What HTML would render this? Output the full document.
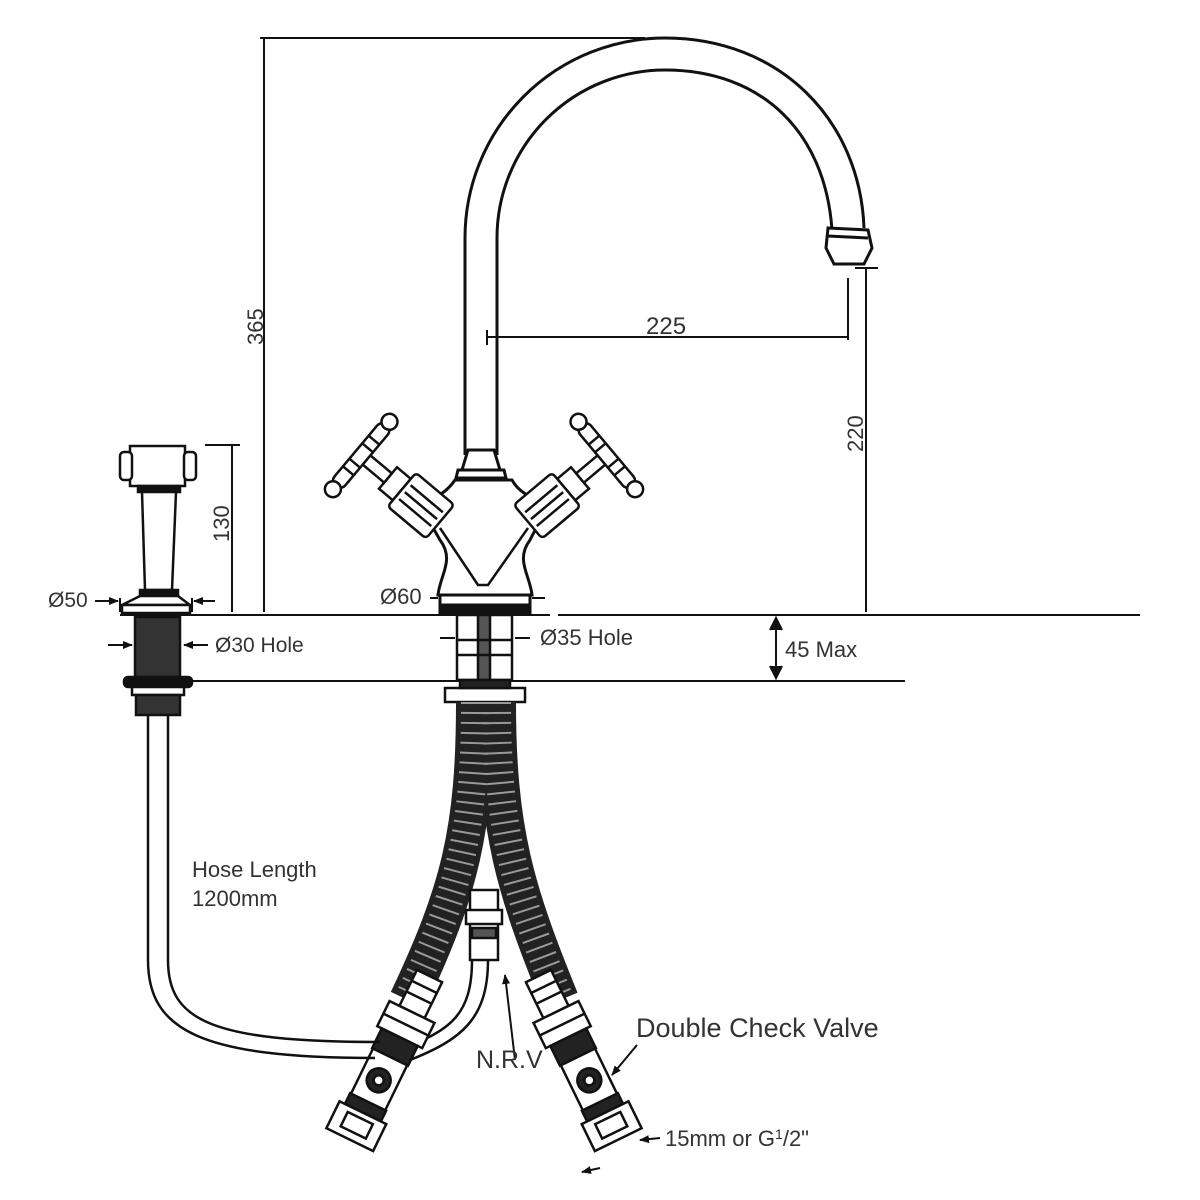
<!DOCTYPE html>
<html><head><meta charset="utf-8"><style>
html,body{margin:0;padding:0;background:#fff}
svg{display:block}
text{font-family:"Liberation Sans",sans-serif;fill:#333}
</style></head><body>
<svg width="1200" height="1200" viewBox="0 0 1200 1200" xmlns="http://www.w3.org/2000/svg">
<defs>
<marker id="ar" markerWidth="10" markerHeight="8" refX="9" refY="4" orient="auto" markerUnits="userSpaceOnUse"><path d="M0,0 L10,4 L0,8 Z" fill="#111"/></marker>
<g id="fit" stroke="#111" stroke-width="2.5" fill="#fff">
  <rect x="-14" y="-40" width="28" height="40"/>
  <line x1="-14" y1="-28" x2="14" y2="-28"/><line x1="-14" y1="-16" x2="14" y2="-16"/>
  <rect x="-25" y="0" width="50" height="28"/>
  <line x1="-25" y1="14" x2="25" y2="14"/>
  <rect x="-20" y="28" width="40" height="22" fill="#222"/>
  <rect x="-19" y="50" width="38" height="52"/>
  <circle cx="0" cy="76" r="12" fill="#222"/><circle cx="0" cy="76" r="5" fill="#fff"/>
  <rect x="-20" y="100" width="40" height="12" fill="#222"/>
  <rect x="-26" y="112" width="52" height="30"/>
  <rect x="-14" y="118" width="28" height="16"/>
</g>
<g id="handle" stroke="#111" stroke-width="2.5" fill="#fff">
  <rect x="-14" y="0" width="28" height="18"/>
  <rect x="-22" y="18" width="44" height="50" rx="4"/>
  <line x1="-9" y1="22" x2="-9" y2="64"/><line x1="0" y1="22" x2="0" y2="64"/><line x1="9" y1="22" x2="9" y2="64"/>
  <rect x="-6" y="-30" width="12" height="30"/>
  <rect x="-40" y="-42" width="80" height="14" rx="7"/>
  <circle cx="-44" cy="-35" r="8"/><circle cx="44" cy="-35" r="8"/>
  <line x1="-20" y1="-42" x2="-20" y2="-28"/><line x1="-10" y1="-42" x2="-10" y2="-28"/><line x1="10" y1="-42" x2="10" y2="-28"/><line x1="20" y1="-42" x2="20" y2="-28"/>
</g>
</defs>

<g stroke="#111" stroke-width="2" fill="none">
  <line x1="260" y1="38" x2="645" y2="38"/>
  <line x1="264" y1="38" x2="264" y2="612"/>
  <line x1="487" y1="330" x2="487" y2="345"/>
  <line x1="487" y1="337" x2="848" y2="337"/>
  <line x1="848" y1="278" x2="848" y2="340"/>
  <line x1="855" y1="268" x2="878" y2="268"/>
  <line x1="866" y1="268" x2="866" y2="612"/>
  <line x1="205" y1="445" x2="240" y2="445"/>
  <line x1="232" y1="445" x2="232" y2="612"/>
  <line x1="120" y1="615" x2="550" y2="615"/>
  <line x1="558" y1="615" x2="1140" y2="615"/>
  <line x1="180" y1="681" x2="905" y2="681"/>
  <line x1="776" y1="618" x2="776" y2="678"/>
  <path d="M770,630 L776,618 L782,630" fill="#111"/>
  <path d="M770,666 L776,678 L782,666" fill="#111"/>
</g>

<g stroke="#111" stroke-width="3" fill="none">
  <path d="M465,455 L465,238 A200,200 0 0 1 665,38 C780,38 860,120 864,228"/>
  <path d="M497,455 L497,238 A168,168 0 0 1 665,70 C760,70 825,130 832,230"/>
  <path d="M828,228 L868,230 L872,248 L864,264 L834,264 L826,248 Z" fill="#fff"/>
  <line x1="828" y1="236" x2="868" y2="238"/>
</g>

<g stroke="#111" stroke-width="3" fill="#fff">
  <path d="M468,450 L494,450 L500,470 L462,470 Z"/>
  <path d="M458,470 L504,470 L506,478 L456,478 Z"/>
  <path d="M455,480 C445,495 430,500 420,505 L440,540 C455,560 440,575 438,595 L532,595 C530,575 515,560 530,540 L548,505 C538,500 520,495 512,480 Z"/>
  <path d="M440,528 L478,585 L488,585 L528,528" fill="none" stroke-width="2.5"/>
  <rect x="440" y="595" width="90" height="10"/>
  <rect x="440" y="605" width="90" height="8" fill="#111"/>
</g>
<use href="#handle" transform="translate(388,478) rotate(-50)"/>
<use href="#handle" transform="translate(580,478) rotate(50)"/>
<g stroke="#111" stroke-width="2" fill="none">
  <line x1="430" y1="598" x2="438" y2="598"/><line x1="532" y1="598" x2="545" y2="598"/>
</g>

<g stroke="#111" stroke-width="2.5" fill="#fff">
  <rect x="457" y="615" width="55" height="65"/>
  <rect x="478" y="615" width="12" height="65" fill="#555"/>
  <line x1="457" y1="640" x2="512" y2="640"/><line x1="457" y1="655" x2="512" y2="655"/>
  <rect x="445" y="688" width="80" height="14"/>
  <rect x="460" y="680" width="50" height="8" fill="#222"/>
</g>
<g stroke="#111" stroke-width="2" fill="none">
  <line x1="440" y1="638" x2="455" y2="638"/><line x1="515" y1="638" x2="530" y2="638"/>
</g>

<g fill="none">
  <path d="M475,702 C475,830 460,890 408,1000" stroke="#222" stroke-width="38"/>
  <path d="M497,702 C497,830 515,890 560,1000" stroke="#222" stroke-width="38"/>
  <path d="M475,702 C475,830 460,890 408,1000" stroke="#999" stroke-width="28" stroke-dasharray="2 8"/>
  <path d="M497,702 C497,830 515,890 560,1000" stroke="#999" stroke-width="28" stroke-dasharray="2 8"/>
</g>
<g stroke="#111" stroke-width="2.5" fill="#fff">
  <path d="M488,960 C488,1020 460,1040 410,1060 L404,1048 C450,1030 472,1015 472,960"/>
  <rect x="470" y="890" width="28" height="70"/>
  <rect x="466" y="910" width="36" height="14"/>
  <rect x="472" y="928" width="24" height="10" fill="#555"/>
</g>
<use href="#fit" transform="translate(412,1012) rotate(26)"/>
<use href="#fit" transform="translate(556,1012) rotate(-26)"/>

<g stroke="#111" stroke-width="2.5" fill="#fff">
  <path d="M148,715 L148,960 C148,1030 200,1058 375,1058" fill="none"/>
  <path d="M168,715 L168,960 C168,1020 210,1042 380,1042" fill="none"/>
  <rect x="130" y="446" width="55" height="40"/>
  <rect x="120" y="452" width="12" height="28" rx="4"/>
  <rect x="184" y="452" width="12" height="28" rx="4"/>
  <rect x="138" y="486" width="42" height="6" fill="#111"/>
  <path d="M142,492 L176,492 L172,590 L145,590 Z"/>
  <rect x="140" y="590" width="38" height="6" fill="#111"/>
  <path d="M140,596 L178,596 L190,605 L122,605 Z"/>
  <rect x="122" y="605" width="68" height="8"/>
  <rect x="135" y="617" width="45" height="60" fill="#333"/>
  <rect x="124" y="677" width="68" height="10" rx="4" fill="#111"/>
  <rect x="132" y="687" width="52" height="8"/>
  <rect x="136" y="695" width="44" height="20" fill="#333"/>
</g>
<g stroke="#111" stroke-width="2" fill="none">
  <line x1="95" y1="601" x2="118" y2="601" marker-end="url(#ar)"/>
  <line x1="215" y1="601" x2="194" y2="601" marker-end="url(#ar)"/>
  <line x1="120" y1="598" x2="120" y2="612"/><line x1="192" y1="598" x2="192" y2="612"/>
  <line x1="108" y1="645" x2="132" y2="645" marker-end="url(#ar)"/>
  <line x1="208" y1="645" x2="184" y2="645" marker-end="url(#ar)"/>
  <line x1="515" y1="1060" x2="505" y2="975" marker-end="url(#ar)"/>
  <line x1="637" y1="1045" x2="612" y2="1075" marker-end="url(#ar)"/>
  <line x1="660" y1="1138" x2="640" y2="1140" marker-end="url(#ar)"/>
  <line x1="600" y1="1168" x2="582" y2="1172" marker-end="url(#ar)"/>
</g>

<text x="0" y="0" font-size="22" transform="translate(263,345) rotate(-90)">365</text>
<text x="0" y="0" font-size="22" transform="translate(863,452) rotate(-90)">220</text>
<text x="0" y="0" font-size="22" transform="translate(229,542) rotate(-90)">130</text>
<text x="646" y="334" font-size="24">225</text>
<text x="48" y="607" font-size="21">Ø50</text>
<text x="380" y="604" font-size="22">Ø60</text>
<text x="215" y="652" font-size="21">Ø30 Hole</text>
<text x="540" y="645" font-size="22">Ø35 Hole</text>
<text x="785" y="657" font-size="22">45 Max</text>
<text x="192" y="877" font-size="22">Hose Length</text>
<text x="192" y="906" font-size="22">1200mm</text>
<text x="476" y="1068" font-size="25">N.R.V</text>
<text x="636" y="1037" font-size="27">Double Check Valve</text>
<text x="665" y="1146" font-size="22">15mm or G<tspan font-size="14" dy="-7">1</tspan><tspan dy="7">/2"</tspan></text>
</svg>
</body></html>
